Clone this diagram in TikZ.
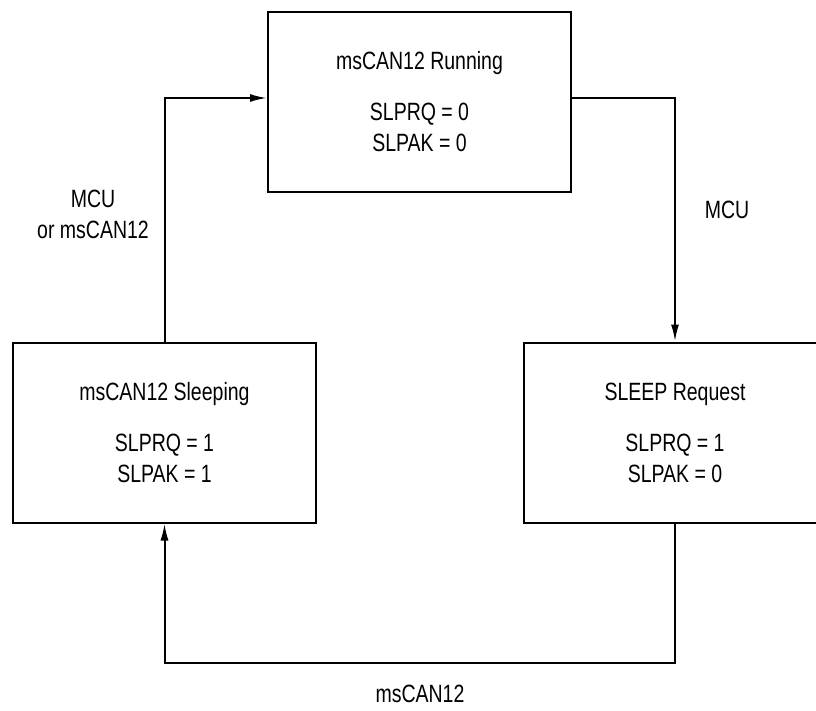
\documentclass[tikz,border=0pt]{standalone}
\usepackage{fontspec}
\setmainfont[FakeStretch=0.78]{Liberation Sans}
\usetikzlibrary{arrows.meta}
\tikzset{
  statebox/.style={draw, line width=2pt, minimum width=303pt, minimum height=180pt,
    align=center, inner sep=0pt, font=\fontsize{25}{31}\selectfont},
  conn/.style={line width=2pt, -{Latex[length=17pt,width=8pt]}},
  lbl/.style={align=center, inner sep=0pt, font=\fontsize{25}{31}\selectfont}
}
\begin{document}
\begin{tikzpicture}[x=1pt,y=-1pt]
\useasboundingbox (0,0) rectangle (816,710);
\node[statebox] (run) at (419.5,102) {msCAN12 Running\\[20pt]SLPRQ = 0\\SLPAK = 0};
\node[statebox] (sleep) at (164.5,432.5) {msCAN12 Sleeping\\[20pt]SLPRQ = 1\\SLPAK = 1};
\node[statebox] (req) at (675,432.5) {SLEEP Request\\[20pt]SLPRQ = 1\\SLPAK = 0};
\coordinate (bot) at (675,663);
\draw[conn] (sleep.north) |- ([yshift=4pt]run.west);
\draw[conn] ([yshift=4pt]run.east) -| (req.north);
\draw[conn] (req.south) -- (bot) -| (sleep.south);
\node[lbl] (l1) at (93,214) {MCU\\or msCAN12};
\node[lbl] (l2) at (727,210) {MCU};
\node[lbl] (l3) at (420,694) {msCAN12};
\end{tikzpicture}
\end{document}
